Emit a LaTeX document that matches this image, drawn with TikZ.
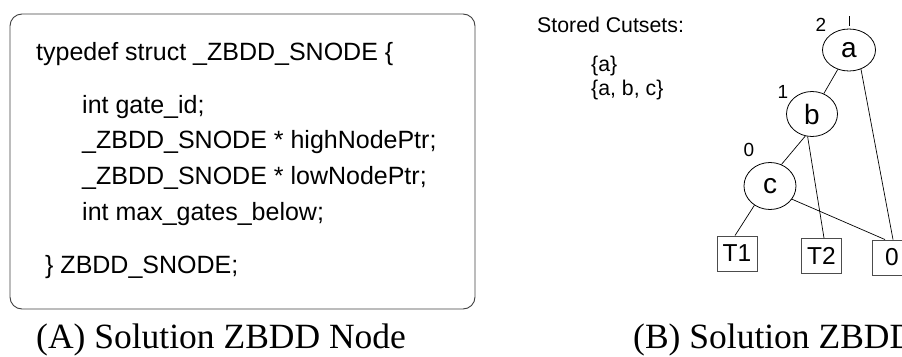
\documentclass[tikz,border=0pt]{standalone}
\usepackage{fontspec}
\setmainfont{Liberation Serif}
\newfontfamily\arialike{Liberation Sans}
\usetikzlibrary{shapes.geometric}

\tikzset{
  codeline/.style={anchor=base west, inner sep=0pt, font=\arialike\fontsize{25}{28}\selectfont},
  cutset/.style={anchor=base west, inner sep=0pt, font=\arialike\fontsize{21.3}{24}\selectfont},
  varnode/.style={draw, ellipse, line width=0.8pt, inner sep=0pt,
    font=\arialike\fontsize{28}{32}\selectfont},
  termnode/.style={draw=black!70, rectangle, line width=0.9pt, inner sep=0pt,
    minimum width=40pt, minimum height=35pt, font=\arialike\fontsize{24.5}{28}\selectfont},
  levellabel/.style={inner sep=0pt, font=\arialike\fontsize{19}{22}\selectfont},
  edge/.style={line width=0.7pt},
  caption/.style={anchor=base west, inner sep=0pt, font=\fontsize{35.5}{40}\selectfont},
}

\begin{document}
\begin{tikzpicture}[x=1pt, y=-1pt]
\useasboundingbox (0,0) rectangle (902,356);
\clip (0,0) rectangle (902,356);

% (A) the node structure
\draw[draw=black!75, line width=0.9pt, rounded corners=12pt] (10,14) rectangle (475,309);
\node[codeline] (l1) at (36,60)  {typedef struct \_ZBDD\_SNODE \{};
\node[codeline] (l2) at (82,113) {int gate\_id;};
\node[codeline] (l3) at (82,148) {\_ZBDD\_SNODE * highNodePtr;};
\node[codeline] (l4) at (82,184) {\_ZBDD\_SNODE * lowNodePtr;};
\node[codeline] (l5) at (82,220) {int max\_gates\_below;};
\node[codeline] (l6) at (45,273) {\} ZBDD\_SNODE;};

% (B) the diagram
\node[cutset] (st)  at (537,32) {Stored Cutsets:};
\node[cutset] (cs1) at (591,71) {\{a\}};
\node[cutset] (cs2) at (591,95) {\{a, b, c\}};

\node[varnode, minimum width=53pt, minimum height=42pt] (a) at (849,50)  {a};
\node[varnode, minimum width=51pt, minimum height=45pt] (b) at (812,114) {b};
\node[varnode, minimum width=52pt, minimum height=47pt] (c) at (770,186) {c};

\node[termnode] (t1)   at (737,253.5) {T1};
\node[termnode] (t2)   at (821.5,256) {T2};
\node[termnode] (zero) at (892,257.5) {0};

\node[levellabel] (n2) at (821,25)  {2};
\node[levellabel] (n1) at (783,92)  {1};
\node[levellabel] (n0) at (749,150) {0};

\coordinate (root) at (849,16);
\draw[edge] (root) -- ([yshift=3pt]a.north);
\draw[edge] (a) -- (b);
\draw[edge] (a.302) -- ([xshift=1pt]zero.north);
\draw[edge] (b.253) -- (c.62);
\draw[edge] (b.259) -- ([xshift=2.5pt]t2.north);
\draw[edge] (c.231) -- ([xshift=-2pt]t1.north);
\draw[edge] (c.329) -- ([xshift=-7pt]zero.north);

% captions
\node[caption] (capA) at (36,348)  {(A) Solution ZBDD Node};
\node[caption] (capB) at (633,348) {(B) Solution ZBDD};
\end{tikzpicture}
\end{document}
